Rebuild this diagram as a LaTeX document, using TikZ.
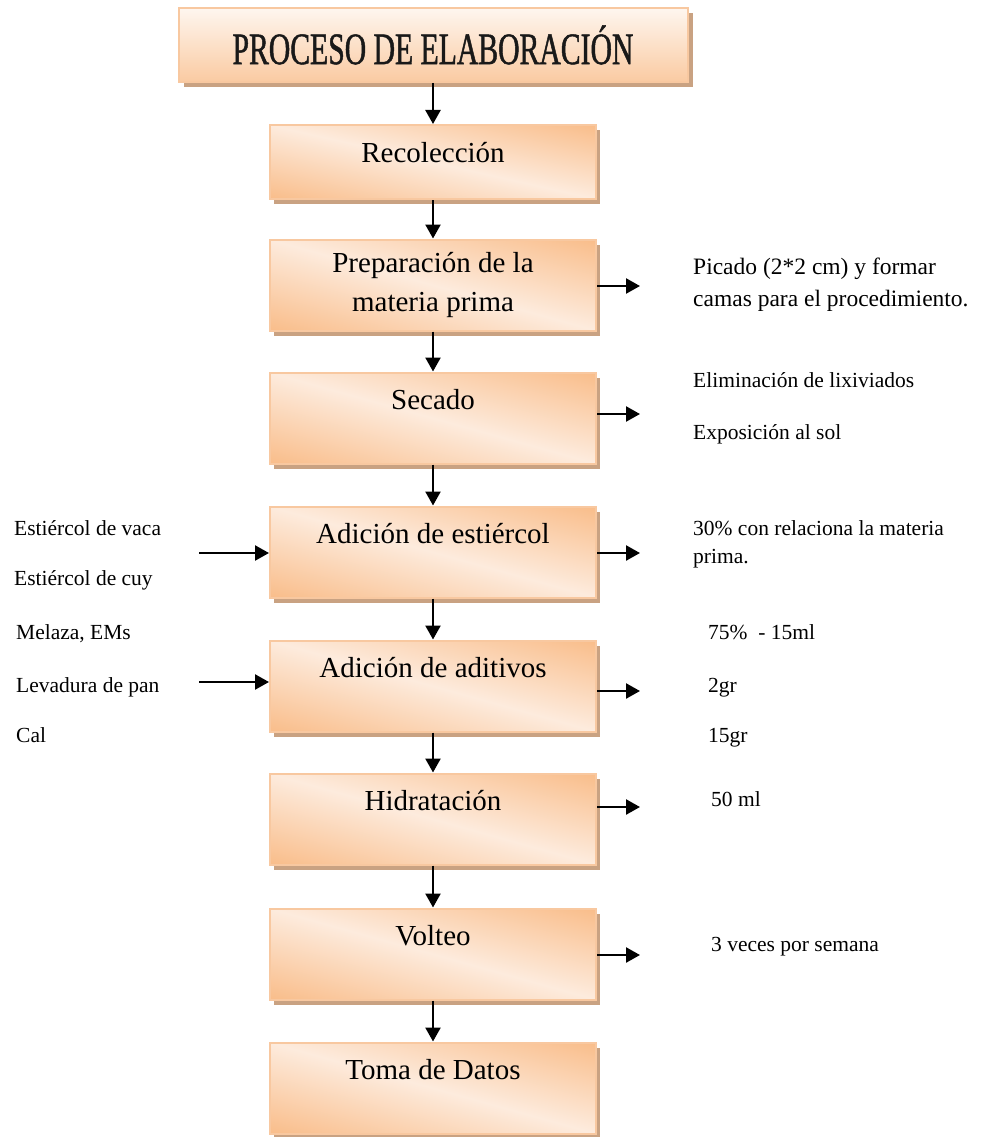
\documentclass[tikz,border=0pt]{standalone}
\usepackage{fontspec}
\setmainfont{Liberation Serif}
\newfontfamily\titlefont[FakeStretch=0.66,FakeBold=1]{Liberation Serif}
\usetikzlibrary{arrows.meta, shadows}
\definecolor{boxorange}{HTML}{F9BD8A}
\definecolor{boxlight}{HTML}{FDEBDD}
\definecolor{boxedge}{HTML}{F8C8A0}
\definecolor{shadowtan}{HTML}{C9A282}
\definecolor{titlelight}{HTML}{FEF6EF}
% light along the TL-BR diagonal, orange towards the other two corners
\pgfdeclarefunctionalshading{stepshade}{\pgfpointorigin}{\pgfpoint{100bp}{100bp}}{}{
  add 100 sub abs 50 div dup 1 gt {pop 1} if
  dup dup
  0.326 mul 0.867 exch sub 3 1 roll
  0.181 mul 0.922 exch sub 3 1 roll
  0.016 mul 0.992 exch sub 3 1 roll
}

\begin{document}
\begin{tikzpicture}[x=1pt, y=-1pt,
    stepbox/.style={rectangle, draw=boxedge, line width=2pt, shade, shading=stepshade,
        drop shadow={draw=none, fill=shadowtan, opacity=1, shadow xshift=4pt, shadow yshift=-5pt},
        minimum width=326pt, minimum height=91pt, font=\fontsize{29}{39}\selectfont, text height=20pt, text depth=38pt},
    titlebox/.style={rectangle, draw=boxedge, line width=2pt, top color=titlelight, bottom color=boxorange!80, drop shadow={draw=none, fill=shadowtan, opacity=1, shadow xshift=5pt, shadow yshift=-5pt}, minimum width=509pt, minimum height=74pt, font=\titlefont\fontsize{45}{50}\selectfont, text=black!90},
    note/.style={anchor=west, align=left, inner sep=0pt, font=\fontsize{23.5}{32}\selectfont},
    smallnote/.style={anchor=west, inner sep=0pt, font=\fontsize{21.5}{28}\selectfont, text height=1.5ex, text depth=.25ex},
    arrow/.style={-{Triangle[length=14pt, width=15pt]}, line width=2.4pt}
]
\useasboundingbox (0,0) rectangle (990,1137);

% Title
\node[titlebox] (tit) at (433,45) {PROCESO DE ELABORACIÓN};

% Process steps
\node[stepbox, minimum height=74pt, text depth=20pt] (rec) at (433,162) {Recolección};
\node[stepbox, align=center, text height={}, text depth={}] (prep) at (433,285) {Preparación de la\\materia prima};
\node[stepbox] (sec) at (433,418) {Secado};
\node[stepbox] (est) at (433,552) {Adición de estiércol};
\node[stepbox] (adi) at (433,686) {Adición de aditivos};
\node[stepbox] (hid) at (433,819) {Hidratación};
\node[stepbox] (vol) at (433,954) {Volteo};
\node[stepbox] (tom) at (433,1088) {Toma de Datos};

% Main flow
\draw[arrow] (tit) -- (rec);
\draw[arrow] (rec) -- (prep);
\draw[arrow] (prep) -- (sec);
\draw[arrow] (sec) -- (est);
\draw[arrow] (est) -- (adi);
\draw[arrow] (adi) -- (hid);
\draw[arrow] (hid) -- (vol);
\draw[arrow] (vol) -- (tom);

% Outputs on the right
\coordinate (prepout) at (640,286);
\coordinate (secout) at (640,414);
\coordinate (estout) at (640,553);
\coordinate (adiout) at (640,691);
\coordinate (hidout) at (640,807);
\coordinate (volout) at (640,955);
\draw[arrow] (prep.east |- prepout) -- (prepout);
\draw[arrow] (sec.east |- secout) -- (secout);
\draw[arrow] (est.east |- estout) -- (estout);
\draw[arrow] (adi.east |- adiout) -- (adiout);
\draw[arrow] (hid.east |- hidout) -- (hidout);
\draw[arrow] (vol.east |- volout) -- (volout);

\node[note] (prepnote) at (693,285) {Picado (2*2 cm) y formar\\camas para el procedimiento.};
\node[smallnote] (secnote1) at (693,385) {Eliminación de lixiviados};
\node[smallnote] (secnote2) at (693,437) {Exposición al sol};
\node[smallnote, align=left, text height={}, text depth={}] (estnote) at (693,544) {30\% con relaciona la materia\\prima.};
\node[smallnote] (adinote1) at (708,637) {75\% \ - 15ml};
\node[smallnote] (adinote2) at (708,690) {2gr};
\node[smallnote] (adinote3) at (708,740) {15gr};
\node[smallnote] (hidnote) at (711,804) {50 ml};
\node[smallnote] (volnote) at (711,949) {3 veces por semana};

% Inputs on the left
\node[smallnote] (estin1) at (14,533) {Estiércol de vaca};
\node[smallnote] (estin2) at (14,583) {Estiércol de cuy};
\node[smallnote] (adiin1) at (16,637) {Melaza, EMs};
\node[smallnote] (adiin2) at (16,690) {Levadura de pan};
\node[smallnote] (adiin3) at (16,740) {Cal};
\coordinate (estin) at (199,553);
\coordinate (adiin) at (199,682);
\draw[arrow] (estin) -- (estin -| est.west);
\draw[arrow] (adiin) -- (adiin -| adi.west);

\end{tikzpicture}
\end{document}
